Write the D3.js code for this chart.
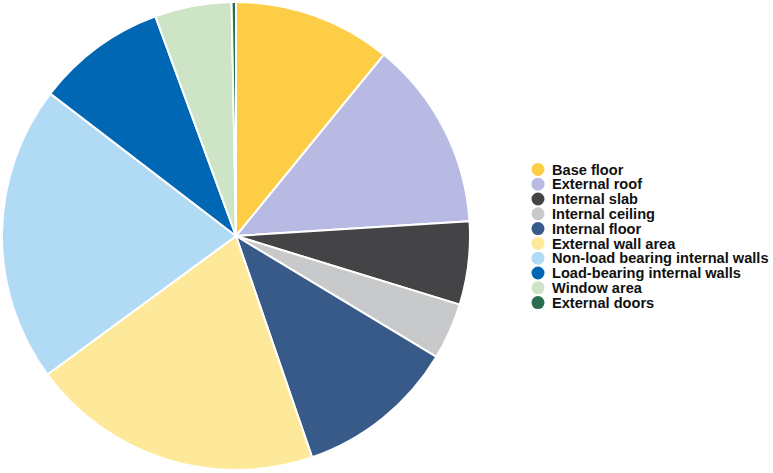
<!DOCTYPE html>
<html lang="en">
<head>
<meta charset="UTF-8">
<script src="https://d3js.org/d3.v7.min.js"></script>
<style>
    body { margin: 0; background: #fff; }
    .legend text { font-family: "Liberation Sans", Arial, sans-serif; font-weight: bold; font-size: 14.6px; fill: #111; }
</style>
</head>
<body>
<script>
// share of each building element (%), clockwise from 12 o'clock
var categories = ["Base floor", "External roof", "Internal slab", "Internal ceiling", "Internal floor",
    "External wall area", "Non-load bearing internal walls", "Load-bearing internal walls", "Window area", "External doors"];
var values = [10.9, 13.1, 5.75, 3.9, 11.1, 20.2, 20.5, 9.0, 5.3, 0.3];
var colors = ["#fdcd45", "#b8bae3", "#444447", "#c8c9cb", "#385a89", "#fee99a", "#b1daf4", "#0067b4", "#cde4c6", "#2a6e4f"];

var width = 773, height = 473;
var cx = 236, cy = 236, radius = 234;

var svg = d3.select("body").append("svg")
    .attr("width", width)
    .attr("height", height);

var data = categories.map(function (c, i) { return { name: c, value: values[i], color: colors[i] }; });

var pie = d3.pie().sort(null).value(function (d) { return d.value; });
var arc = d3.arc().innerRadius(0).outerRadius(radius);

svg.append("g")
    .attr("transform", "translate(" + cx + "," + cy + ")")
    .selectAll("path")
    .data(pie(data))
    .enter().append("path")
    .attr("d", arc)
    .attr("fill", function (d) { return d.data.color; })
    .attr("stroke", "#fff")
    .attr("stroke-width", 2)
    .attr("stroke-linejoin", "round");

// legend
var y = d3.scaleBand().domain(categories).range([162, 310]);

var legend = svg.append("g").attr("class", "legend")
    .selectAll("g")
    .data(data)
    .enter().append("g")
    .attr("transform", function (d) { return "translate(538," + (y(d.name) + y.bandwidth() / 2) + ")"; });

legend.append("circle")
    .attr("r", 6.5)
    .attr("fill", function (d) { return d.color; });

legend.append("text")
    .attr("x", 14)
    .attr("dy", "0.36em")
    .text(function (d) { return d.name; });
</script>
</body>
</html>
